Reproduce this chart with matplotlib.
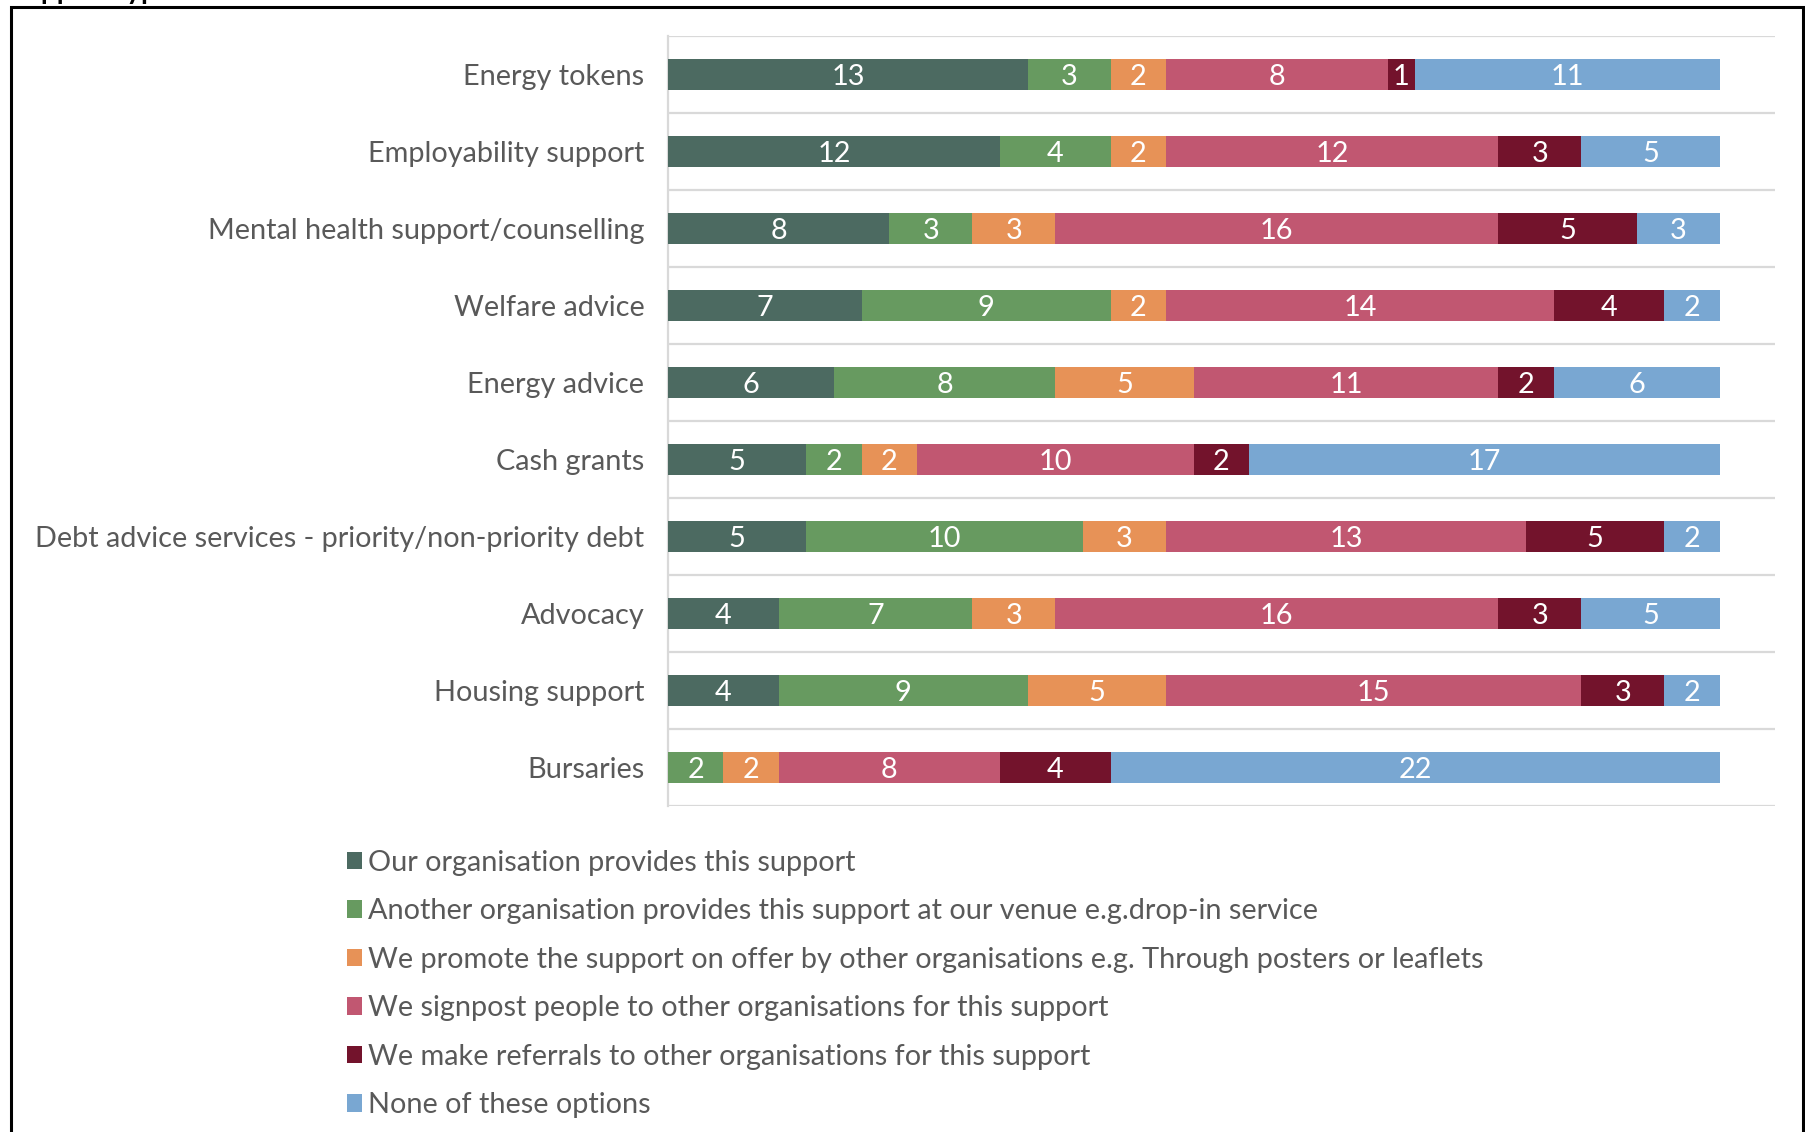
import matplotlib
matplotlib.use("Agg")
import matplotlib.pyplot as plt
from matplotlib.patches import Rectangle, Patch
import numpy as np

plt.rcParams['font.family'] = ['Lato', 'DejaVu Sans']

categories = [
    "Energy tokens",
    "Employability support",
    "Mental health support/counselling",
    "Welfare advice",
    "Energy advice",
    "Cash grants",
    "Debt advice services - priority/non-priority debt",
    "Advocacy",
    "Housing support",
    "Bursaries",
]

series_names = [
    "Our organisation provides this support",
    "Another organisation provides this support at our venue e.g.drop-in service",
    "We promote the support on offer by other organisations e.g. Through posters or leaflets",
    "We signpost people to other organisations for this support",
    "We make referrals to other organisations for this support",
    "None of these options",
]

provides = [13, 12, 8, 7, 6, 5, 5, 4, 4, 0]
another_at_venue = [3, 4, 3, 9, 8, 2, 10, 7, 9, 2]
promote = [2, 2, 3, 2, 5, 2, 3, 3, 5, 2]
signpost = [8, 12, 16, 14, 11, 10, 13, 16, 15, 8]
referrals = [1, 3, 5, 4, 2, 2, 5, 3, 3, 4]
none_of_these = [11, 5, 3, 2, 6, 17, 2, 5, 2, 22]

series_values = [provides, another_at_venue, promote, signpost, referrals, none_of_these]
colors = ["#4C6A61", "#679A60", "#E79257", "#C15771", "#73132C", "#79A7D2"]

FS = 20.8

W, H = 1805, 1132
fig = plt.figure(figsize=(W / 100, H / 100), dpi=100)
fig.patch.set_facecolor("white")

ax = fig.add_axes([668 / W, 1 - 806 / H, (1775 - 668) / W, (806 - 36) / H])

y = np.arange(len(categories))
left = np.zeros(len(categories))
for name, vals, col in zip(series_names, series_values, colors):
    vals = np.array(vals, dtype=float)
    bars = ax.barh(y, vals, left=left, height=0.4, color=col, label=name,
                   edgecolor="none", zorder=3)
    for rect, v in zip(bars, vals):
        if v > 0:
            ax.text(rect.get_x() + rect.get_width() / 2, rect.get_y() + rect.get_height() / 2,
                    f"{int(v)}", ha="center", va="center_baseline", color="white",
                    fontsize=FS, zorder=4)
    left += vals

ax.set_xlim(0, 40)
ax.set_ylim(len(categories) - 0.5, -0.5)

# Gridlines on category boundaries
for b in np.arange(-0.5, len(categories), 1.0):
    ax.axhline(b, color="#D9D9D9", lw=1.6, zorder=1)

ax.set_yticks(y)
ax.set_yticklabels(categories, fontsize=FS, color="#595959", va="center_baseline")
ax.tick_params(axis="y", length=0, pad=17)
ax.set_xticks([])
for s in ["top", "right", "bottom"]:
    ax.spines[s].set_visible(False)
ax.spines["left"].set_color("#D9D9D9")
ax.spines["left"].set_linewidth(1.6)

# Legend below the plot
handles = [Patch(facecolor=c, edgecolor="none") for c in colors]
fig.legend(handles, series_names, loc="upper left",
           bbox_to_anchor=(335 / W, 1 - 838 / H), frameon=False,
           fontsize=FS, labelcolor="#595959", handlelength=0.55, handleheight=0.55,
           handletextpad=0.2, labelspacing=0.78, borderaxespad=0)

# Outer frame and heading
fig.add_artist(Rectangle((11 / W, -0.05), (1803 - 11) / W, 1.05 - 7 / H,
                         transform=fig.transFigure, fill=False, edgecolor="black",
                         lw=2.2, zorder=10))
fig.text(10 / W, 1 + 1 / H, "Support type", fontsize=20, fontweight="bold",
         color="black", ha="left", va="baseline")

fig.savefig("out.png", dpi=100, facecolor="white")
